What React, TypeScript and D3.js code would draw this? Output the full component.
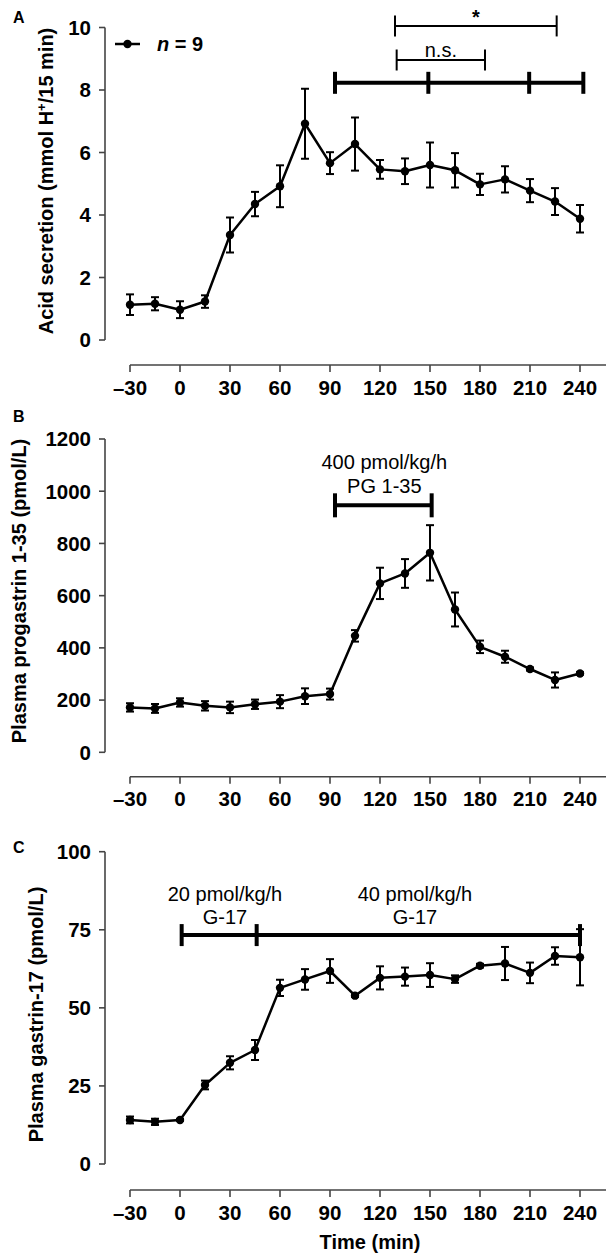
import React from "react";
import * as d3 from "d3";

const times = [-30, -15, 0, 15, 30, 45, 60, 75, 90, 105, 120, 135, 150, 165, 180, 195, 210, 225, 240];
const xTicks = [-30, 0, 30, 60, 90, 120, 150, 180, 210, 240];

const acidMean = [1.13, 1.16, 0.97, 1.23, 3.36, 4.35, 4.92, 6.92, 5.66, 6.27, 5.46, 5.4, 5.6, 5.43, 4.98, 5.14, 4.78, 4.43, 3.88];
const acidErr = [0.33, 0.21, 0.27, 0.2, 0.56, 0.39, 0.67, 1.12, 0.35, 0.85, 0.3, 0.41, 0.72, 0.55, 0.34, 0.42, 0.37, 0.43, 0.44];
const acidTicks = [0, 2, 4, 6, 8, 10];

const pgMean = [172, 168, 191, 178, 172, 184, 194, 215, 223, 446, 647, 685, 764, 547, 404, 366, 319, 277, 302];
const pgErr = [16, 17, 16, 18, 22, 18, 25, 30, 21, 22, 60, 55, 106, 65, 24, 23, 6, 29, 5];
const pgTicks = [0, 200, 400, 600, 800, 1000, 1200];

const g17Mean = [14.1, 13.5, 14.1, 25.3, 32.4, 36.5, 56.4, 59.1, 61.8, 53.9, 59.6, 60.0, 60.5, 59.2, 63.5, 64.2, 61.2, 66.6, 66.2];
const g17Err = [1.1, 1.0, 0.3, 1.4, 2.1, 3.2, 2.6, 3.3, 3.8, 0.4, 3.7, 2.9, 3.8, 1.2, 0.6, 5.3, 3.3, 2.8, 9];
const g17Ticks = [0, 25, 50, 75, 100];

// annotation periods (minutes)
const acidPeriods = [93, 149, 209.5, 242];
const nsBracket = [130, 183];
const starBracket = [129, 226];
const pgPeriod = [93, 151];
const g17Periods = [1, 46, 240];

const FONT = "'Liberation Sans', Arial, Helvetica, sans-serif";
const AXIS = "#444";

const x = d3.scaleLinear().domain([-30, 240]).range([130, 580]);
const AXIS_X = 105;

type PanelProps = {
  mean: number[];
  err: number[];
  ticks: number[];
  y: d3.ScaleLinear<number, number>;
  xAxisY: number;
  children?: React.ReactNode;
};

function Panel({ mean, err, ticks, y, xAxisY, children }: PanelProps) {
  const line = d3
    .line<number>()
    .x((_, i) => x(times[i]))
    .y((d) => y(d));
  const [y0, y1] = y.range();
  return (
    <g>
      {/* y axis */}
      <line x1={AXIS_X} x2={AXIS_X} y1={y1} y2={y0} stroke={AXIS} strokeWidth={1.6} />
      {ticks.map((t) => (
        <g key={t}>
          <line x1={AXIS_X - 6} x2={AXIS_X} y1={y(t)} y2={y(t)} stroke={AXIS} strokeWidth={1.6} />
          <text x={AXIS_X - 14} y={y(t)} dy="0.36em" textAnchor="end" fontWeight="bold" fontSize={20.5}>
            {t}
          </text>
        </g>
      ))}
      {/* x axis */}
      <line x1={x(-30)} x2={606} y1={xAxisY} y2={xAxisY} stroke={AXIS} strokeWidth={1.6} />
      {xTicks.map((t) => (
        <g key={t}>
          <line x1={x(t)} x2={x(t)} y1={xAxisY} y2={xAxisY + 7} stroke={AXIS} strokeWidth={1.6} />
          <text x={x(t)} y={xAxisY + 29.5} textAnchor="middle" fontWeight="bold" fontSize={20.5}>
            {t < 0 ? "\u2013" + Math.abs(t) : t}
          </text>
        </g>
      ))}
      {/* error bars */}
      {mean.map((m, i) => {
        const cx = x(times[i]);
        const top = y(m + err[i]);
        const bot = y(m - err[i]);
        return (
          <g key={i} stroke="#000" strokeWidth={2}>
            <line x1={cx} x2={cx} y1={top} y2={bot} />
            <line x1={cx - 4} x2={cx + 4} y1={top} y2={top} />
            <line x1={cx - 4} x2={cx + 4} y1={bot} y2={bot} />
          </g>
        );
      })}
      <path d={line(mean) || ""} fill="none" stroke="#000" strokeWidth={2.5} strokeLinejoin="round" />
      {mean.map((m, i) => (
        <circle key={i} cx={x(times[i])} cy={y(m)} r={4.2} fill="#000" />
      ))}
      {children}
    </g>
  );
}

function Bar({ ts, yy, half, w }: { ts: number[]; yy: number; half: number; w: number }) {
  return (
    <g stroke="#000" strokeWidth={w}>
      <line x1={x(ts[0])} x2={x(ts[ts.length - 1])} y1={yy} y2={yy} />
      {ts.map((t, i) => (
        <line key={i} x1={x(t)} x2={x(t)} y1={yy - half} y2={yy + half} />
      ))}
    </g>
  );
}

export default function App() {
  const yA = d3.scaleLinear().domain([0, 10]).range([340, 27.5]);
  const yB = d3.scaleLinear().domain([0, 1200]).range([752.3, 439]);
  const yC = d3.scaleLinear().domain([0, 100]).range([1164, 851.7]);

  const barA = yA(8.23);
  const nsY = yA(8.96);
  const starY = yA(10.05);
  const barB = yB(946);
  const barC = yC(73.3);

  return (
    <svg width={610} height={1256} style={{ position: "absolute", left: 0, top: 0 }} fontFamily={FONT}>
      <rect width={610} height={1256} fill="#fff" />
      {/* Panel A */}
      <text x={13} y={23} fontWeight="bold" fontSize={16}>A</text>
      <text
        transform={`translate(46, ${(22 + 340) / 2}) rotate(-90)`}
        textAnchor="middle"
        dy="0.36em"
        fontWeight="bold"
        fontSize={20}
      >
        Acid secretion (mmol H<tspan baselineShift="super" fontSize={13}>+</tspan>/15 min)
      </text>
      <Panel mean={acidMean} err={acidErr} ticks={acidTicks} y={yA} xAxisY={365}>
        <Bar ts={acidPeriods} yy={barA} half={11} w={4} />
        <Bar ts={nsBracket} yy={nsY} half={10.5} w={2} />
        <Bar ts={starBracket} yy={starY} half={10.5} w={2} />
        <text x={(x(nsBracket[0]) + x(nsBracket[1])) / 2} y={nsY - 3.5} textAnchor="middle" fontSize={20}>
          n.s.
        </text>
        <text x={(x(starBracket[0]) + x(starBracket[1])) / 2} y={starY - 2} textAnchor="middle" fontSize={20} fontWeight="bold">
          *
        </text>
        <line x1={115} x2={140} y1={44} y2={44} stroke="#000" strokeWidth={2.5} />
        <circle cx={127.5} cy={44} r={4.2} fill="#000" />
        <text x={157} y={51} fontWeight="bold" fontSize={20}>
          <tspan fontStyle="italic">n</tspan> = 9
        </text>
      </Panel>

      {/* Panel B */}
      <text x={13} y={422} fontWeight="bold" fontSize={16}>B</text>
      <text
        transform={`translate(19, ${(430 + 752) / 2}) rotate(-90)`}
        textAnchor="middle"
        dy="0.36em"
        fontWeight="bold"
        fontSize={20}
      >
        Plasma progastrin 1-35 (pmol/L)
      </text>
      <Panel mean={pgMean} err={pgErr} ticks={pgTicks} y={yB} xAxisY={776.7}>
        <Bar ts={pgPeriod} yy={barB} half={12} w={4} />
        <text x={(x(pgPeriod[0]) + x(pgPeriod[1])) / 2 + 1} y={barB - 36} textAnchor="middle" fontSize={20}>
          400 pmol/kg/h
        </text>
        <text x={(x(pgPeriod[0]) + x(pgPeriod[1])) / 2 + 1} y={barB - 12} textAnchor="middle" fontSize={20}>
          PG 1-35
        </text>
      </Panel>

      {/* Panel C */}
      <text x={13} y={853} fontWeight="bold" fontSize={16}>C</text>
      <text
        transform={`translate(36, ${(882 + 1147) / 2}) rotate(-90)`}
        textAnchor="middle"
        dy="0.36em"
        fontWeight="bold"
        fontSize={20}
      >
        Plasma gastrin-17 (pmol/L)
      </text>
      <Panel mean={g17Mean} err={g17Err} ticks={g17Ticks} y={yC} xAxisY={1190}>
        <Bar ts={g17Periods} yy={barC} half={11} w={4} />
        <text x={225} y={barC - 34} textAnchor="middle" fontSize={20}>20 pmol/kg/h</text>
        <text x={225} y={barC - 11} textAnchor="middle" fontSize={20}>G-17</text>
        <text x={415} y={barC - 34} textAnchor="middle" fontSize={20}>40 pmol/kg/h</text>
        <text x={415} y={barC - 11} textAnchor="middle" fontSize={20}>G-17</text>
      </Panel>
      <text x={370} y={1249} textAnchor="middle" fontWeight="bold" fontSize={20}>
        Time (min)
      </text>
    </svg>
  );
}
